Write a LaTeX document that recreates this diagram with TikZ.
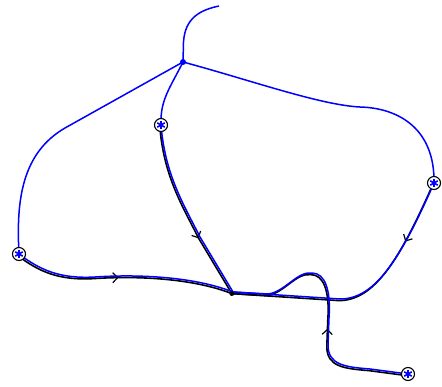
\documentclass[tikz,border=0pt]{standalone}
\usetikzlibrary{arrows.meta,decorations.markings,backgrounds}

% routes from the terminals to the junction
\newcommand{\routeA}{(tA.center) .. controls (165,175) and (184,205) .. (200,237) -- (junction)}
\newcommand{\routeB}{(tB.center) .. controls (40,270) and (60,279) .. (95,277) .. controls (140,274) and (195,277) .. (junction)}
\newcommand{\routeC}{(tC.center) .. controls (400,260) and (375,299) .. (340,299) -- (junction)}
\newcommand{\routeD}{(tD.center) -- (370,369) .. controls (345,367) and (328,365) .. (328,345) -- (329,318) .. controls (331,290) and (325,273) .. (312,273) .. controls (297,271) and (285,292) .. (268,294) -- (junction)}

\begin{document}
\begin{tikzpicture}[
      x=1pt, y=-1pt,
      tree/.style={draw=blue, line width=1.5pt},
      offset/.style={transform canvas={xshift=-1.2pt, yshift=-1.6pt}},
      trail/.style={
          draw=black,
          line width=1.6pt,
          offset,
          postaction={decorate},
          decoration={markings, mark=at position #1 with {\arrow{Straight Barb[length=5pt, width=10pt, line width=1.2pt]}}}
      },
      terminal/.style={
          circle,
          draw=black,
          line width=1.1pt,
          fill=white,
          minimum size=13pt,
          inner sep=0pt,
          path picture={
              \foreach \a in {90,30,150}
                  \draw[blue, line width=1.6pt] (path picture bounding box.center) ++(\a:4.3pt) -- ++(\a+180:8.6pt);
          }
      },
      hubdot/.style={circle, fill=blue, minimum size=6pt, inner sep=0pt}
  ]
      \useasboundingbox (0,0) rectangle (442,386);

      % Nodes
      \node (hub) [hubdot] at (183,62) {};
      \node (tA) [terminal] at (161,125) {};
      \node (tB) [terminal] at (19,254) {};
      \node (tC) [terminal] at (434,183) {};
      \node (tD) [terminal] at (408,374) {};
      \coordinate (junction) at (233,292);
      \coordinate (top) at (219,6);

      \begin{scope}[on background layer]
          % black paths with arrows
          \draw [trail=0.65] \routeA;
          \draw [trail=0.48] \routeB;
          \draw [trail=0.24] \routeC;
          \draw [trail=0.43] \routeD;

          % blue tree
          \draw [tree] (hub.center) -- (183.5,42) .. controls (185,18) and (200,10) .. (top);
          \draw [tree] (hub.center) -- (65,128) .. controls (22,153) and (16,200) .. (tB.center);
          \draw [tree] (hub.center) .. controls (170,88) and (160,100) .. (tA.center);
          \draw [tree] (hub.center) .. controls (250,80) and (320,105) .. (360,107) .. controls (400,108) and (435,130) .. (tC.center);
          \draw [tree] \routeA;
          \draw [tree] \routeB;
          \draw [tree] \routeC;
          \draw [tree] \routeD;
      \end{scope}

      \fill [offset] (junction) circle (2.4pt);
  \end{tikzpicture}
\end{document}
